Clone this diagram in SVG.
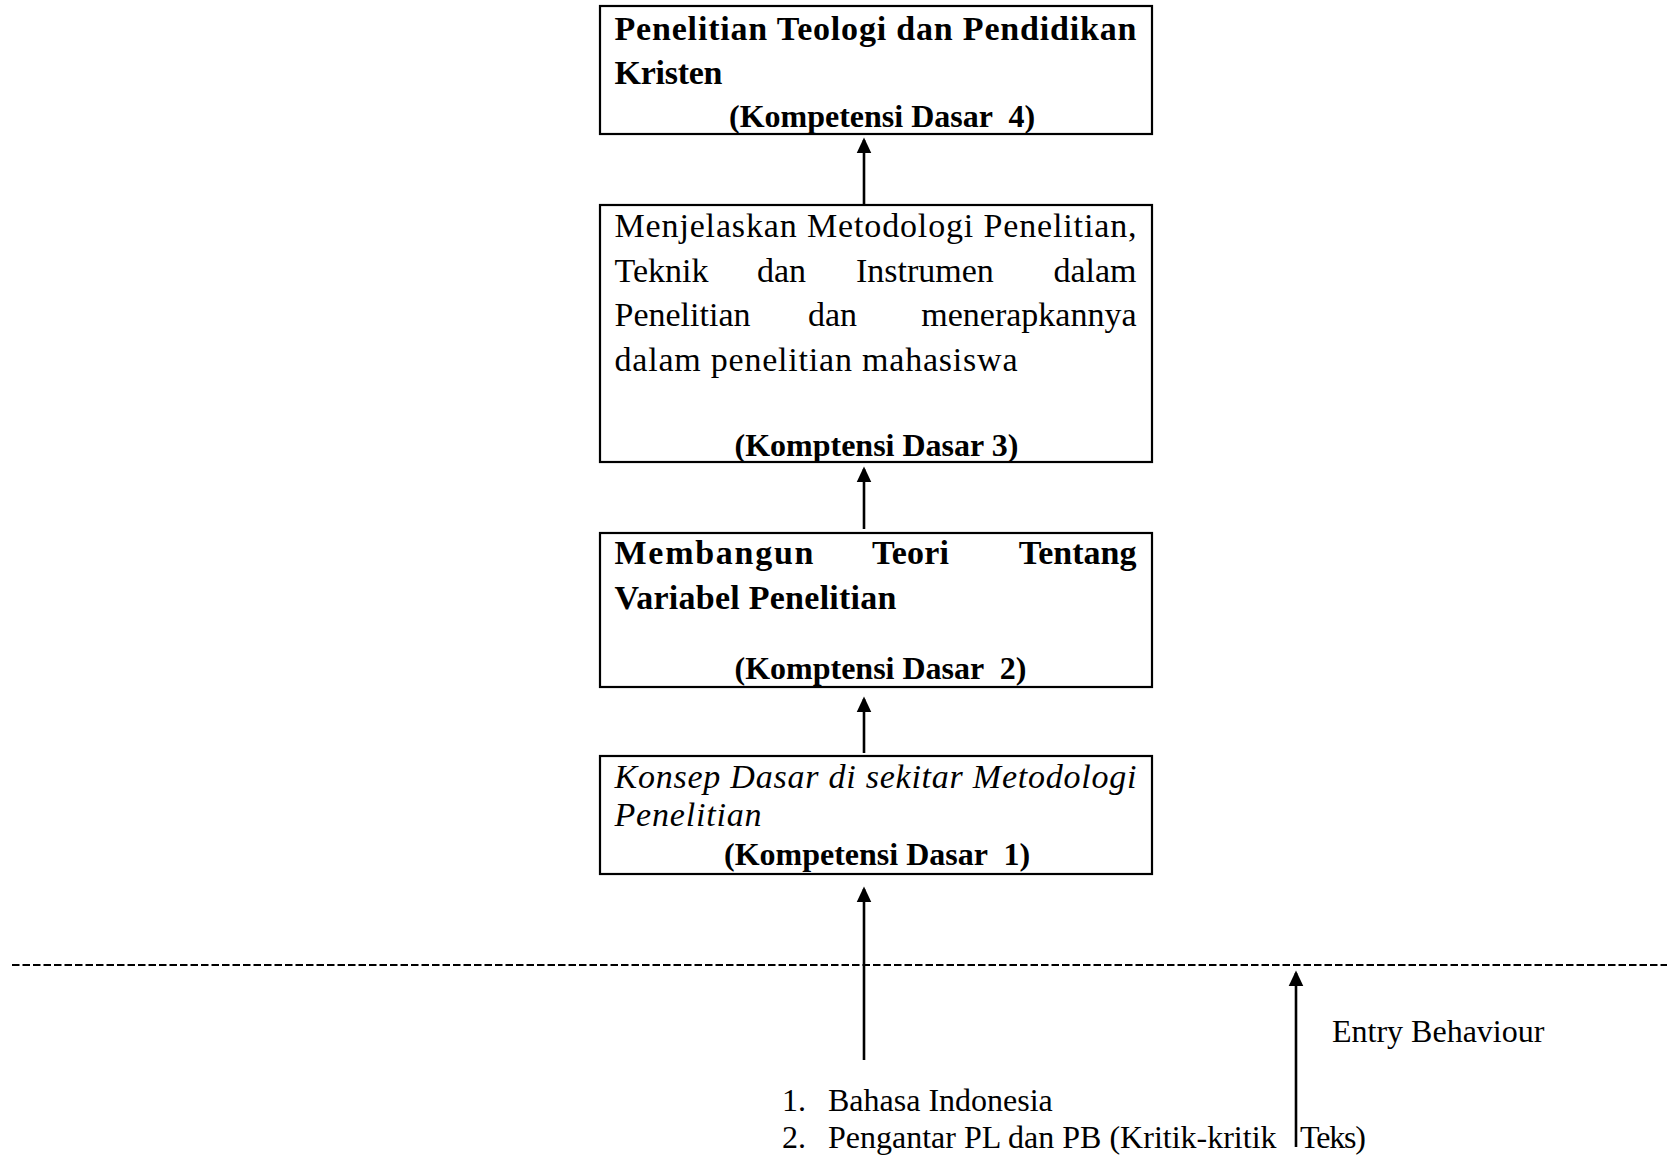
<svg xmlns="http://www.w3.org/2000/svg" width="1667" height="1155" viewBox="0 0 1667 1155">
<style>
.box{fill:#fff;stroke:#000;stroke-width:2.2}
.pal{font-family:"Liberation Serif","Times New Roman",serif;font-size:34px;fill:#000}
.b{font-weight:bold}
.i{font-style:italic}
.tnr{font-family:"Liberation Serif","Times New Roman",serif;font-size:32px;fill:#000;white-space:pre}
.tb{font-weight:bold}
.conn{stroke:#000;stroke-width:2.6;fill:none}
.dash{stroke:#000;stroke-width:2.2;stroke-dasharray:7.5 3;fill:none}
</style>
<defs>
<marker id="ah" markerWidth="6" markerHeight="6" refX="5" refY="3" orient="auto" markerUnits="strokeWidth">
<path d="M0,0.2 L6,3 L0,5.8 z" fill="#000"/>
</marker>
</defs>
<rect width="1667" height="1155" fill="#fff"/>

<g id="node-kd4">
<rect class="box" x="600" y="6" width="552" height="128"/>
<text class="pal b" x="614.5" y="40" textLength="522" lengthAdjust="spacing">Penelitian Teologi dan Pendidikan</text>
<text class="pal b" x="614.5" y="84" textLength="108" lengthAdjust="spacing">Kristen</text>
<text class="tnr tb" x="729" y="127">(Kompetensi Dasar  4)</text>
</g>

<g id="node-kd3">
<rect class="box" x="600" y="205" width="552" height="257"/>
<text class="pal" x="614.5" y="237" textLength="522" lengthAdjust="spacing">Menjelaskan Metodologi Penelitian,</text>
<text class="pal" x="614.5" y="282">Teknik</text>
<text class="pal" x="757" y="282">dan</text>
<text class="pal" x="856" y="282">Instrumen</text>
<text class="pal" x="1136.5" y="282" text-anchor="end">dalam</text>
<text class="pal" x="614.5" y="326">Penelitian</text>
<text class="pal" x="808" y="326">dan</text>
<text class="pal" x="1136.5" y="326" text-anchor="end">menerapkannya</text>
<text class="pal" x="614.5" y="371" textLength="403" lengthAdjust="spacing">dalam penelitian mahasiswa</text>
<text class="tnr tb" x="734.5" y="456">(Komptensi Dasar 3)</text>
</g>

<g id="node-kd2">
<rect class="box" x="600" y="533" width="552" height="154"/>
<text class="pal b" x="614.5" y="564" textLength="199" lengthAdjust="spacing">Membangun</text>
<text class="pal b" x="872" y="564" textLength="77" lengthAdjust="spacing">Teori</text>
<text class="pal b" x="1136.5" y="564" text-anchor="end">Tentang</text>
<text class="pal b" x="614.5" y="609" textLength="282" lengthAdjust="spacing">Variabel Penelitian</text>
<text class="tnr tb" x="734.5" y="679">(Komptensi Dasar  2)</text>
</g>

<g id="node-kd1">
<rect class="box" x="600" y="756" width="552" height="118"/>
<text class="pal i" x="614.5" y="788" textLength="522" lengthAdjust="spacing">Konsep Dasar di sekitar Metodologi</text>
<text class="pal i" x="614.5" y="826" textLength="147" lengthAdjust="spacing">Penelitian</text>
<text class="tnr tb" x="724" y="865">(Kompetensi Dasar  1)</text>
</g>

<g id="connectors">
<line class="conn" x1="864" y1="205" x2="864" y2="140" marker-end="url(#ah)"/>
<line class="conn" x1="864" y1="529" x2="864" y2="469" marker-end="url(#ah)"/>
<line class="conn" x1="864" y1="753" x2="864" y2="699" marker-end="url(#ah)"/>
<line class="conn" x1="864" y1="1060" x2="864" y2="889" marker-end="url(#ah)"/>
<line class="conn" x1="1296" y1="1147" x2="1296" y2="973" marker-end="url(#ah)"/>
<line class="dash" x1="12" y1="965" x2="1667" y2="965"/>
</g>

<g id="labels">
<text class="tnr" x="1332" y="1042">Entry Behaviour</text>
<text class="tnr" x="782" y="1111">1.</text>
<text class="tnr" x="828" y="1111">Bahasa Indonesia</text>
<text class="tnr" x="782" y="1148">2.</text>
<text class="tnr" x="828" y="1148">Pengantar PL dan PB (Kritik-kritik</text>
<text class="tnr" x="1300" y="1148" textLength="66" lengthAdjust="spacing">Teks)</text>
</g>
</svg>
